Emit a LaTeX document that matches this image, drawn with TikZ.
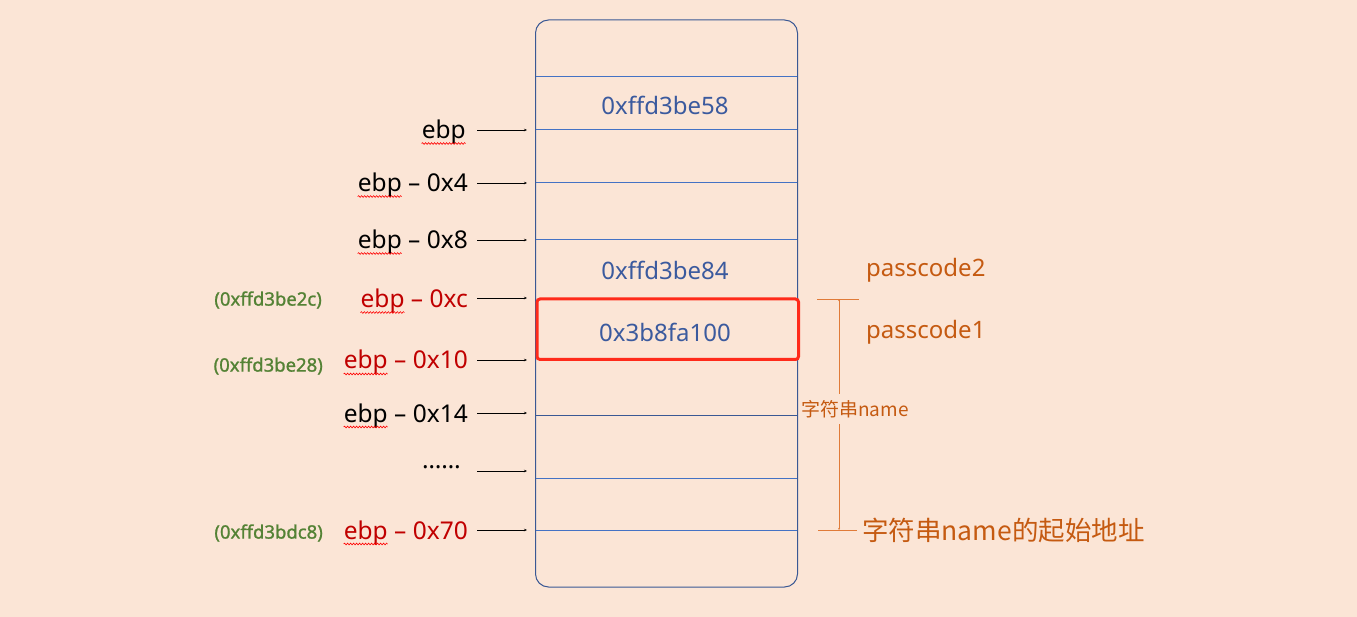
\documentclass[tikz,border=0pt]{standalone}
\usepackage{fontspec}
\setmainfont{Noto Sans}
\newfontfamily\cjk{Noto Sans CJK SC}
\newfontfamily\semib[FakeBold=1.2]{Noto Sans}
\usetikzlibrary{arrows.meta,decorations.pathmorphing}
\definecolor{bgc}{HTML}{FBE5D6}
\definecolor{rowline}{HTML}{4472C4}
\definecolor{boxline}{HTML}{3A5894}
\definecolor{valc}{HTML}{3B5A9E}
\definecolor{redc}{HTML}{C00000}
\definecolor{greenc}{HTML}{548235}
\definecolor{orc}{HTML}{C55A11}
\definecolor{hilite}{HTML}{FF2A1A}
\definecolor{bracketc}{HTML}{E07B39}
\tikzset{
  lbl/.style={anchor=base east,inner sep=0pt,font=\fontsize{24.5}{28}\selectfont},
  addr/.style={anchor=east,inner sep=0pt,text=greenc,font=\semib\fontsize{18.5}{21}\selectfont},
  val/.style={inner sep=0pt,text=valc,font=\fontsize{24}{28}\selectfont},
  pc/.style={anchor=west,inner sep=0pt,text=orc,font=\fontsize{24}{28}\selectfont},
  ptr/.style={-{Stealth[length=3pt,width=2.5pt]},line width=0.9pt,black},
  row/.style={rowline,line width=1pt},
  wave/.style={red,line width=0.6pt,decorate,decoration={snake,amplitude=0.9pt,segment length=3pt}},
  brk/.style={bracketc,line width=0.9pt},
}
\begin{document}
\begin{tikzpicture}[x=1pt,y=-1pt]
\fill[bgc] (0,0) rectangle (1357,617);
\useasboundingbox (0,0) rectangle (1357,617);
% stack box
\draw[boxline,line width=1pt,rounded corners=13pt] (535.5,20) rectangle (797.5,587);
\foreach \yy in {77,130,183,240,478,530} \draw[row] (536,\yy) -- (797,\yy);
\draw[boxline,line width=0.8pt] (536,415) -- (797,415);
% values
\node[val] (v1) at (665,105) {0xffd3be58};
\node[val] (v2) at (665,270) {0xffd3be84};
\node[val] (v3) at (665,332) {0x3b8fa100};
% highlight
\draw[hilite,line width=3pt,rounded corners=3pt] (537,299) rectangle (798.5,359.5);
% left labels
\node[lbl] (l1) at (466,138.5) {ebp};
\node[lbl] (l2) at (468,191.5) {ebp – 0x4};
\node[lbl] (l3) at (468,248.5) {ebp – 0x8};
\node[lbl,text=redc] (l4) at (468,307.5) {ebp – 0xc};
\node[lbl,text=redc] (l5) at (468,369) {ebp – 0x10};
\node[lbl] (l6) at (468,422) {ebp – 0x14};
\node[lbl] (l7) at (461,468) {……};
\node[lbl,text=redc] (l8) at (468,539) {ebp – 0x70};
\foreach \n in {l1,l2,l3,l4,l5,l6,l8}
  \draw[wave] ([yshift=-5pt]\n.base west) -- ++(44,0);
% addresses
\node[addr] (a1) at (322,300) {(0xffd3be2c)};
\node[addr] (a2) at (323,366) {(0xffd3be28)};
\node[addr] (a3) at (323,533) {(0xffd3bdc8)};
% pointer arrows
\foreach \i/\yy in {1/130,2/183,3/240,4/298,5/360,6/413,7/471,8/530}{
  \coordinate (s\i) at (477,\yy);
  \coordinate (e\i) at (527,\yy);
  \draw[ptr] (s\i) -- (e\i);
}
% right side
\node[pc] (p2) at (866,270) {passcode2};
\node[pc] (p1) at (866,332) {passcode1};
\coordinate (t1a) at (817,299);
\coordinate (t1b) at (859,299);
\coordinate (t2a) at (818,530);
\coordinate (t2b) at (857,530);
\coordinate (vt) at (839,299);
\coordinate (vb) at (839,530);
\draw[brk] (t1a) -- (t1b);
\draw[brk] (t2a) -- (t2b);
\node[inner sep=0pt,text=orc,font=\cjk\fontsize{19}{22}\selectfont] (nm) at (855,409) {字符串name};
\draw[brk,-{Stealth[length=2pt,width=2pt]}] (nm.north -| vt) ++(0,-6) -- (vt);
\draw[brk,-{Stealth[length=2pt,width=2pt]}] (nm.south -| vb) ++(0,6) -- (vb);
\node[anchor=west,inner sep=0pt,text=orc,font=\cjk\fontsize{26.5}{30}\selectfont] (st) at (862,530) {字符串name的起始地址};
\end{tikzpicture}
\end{document}
